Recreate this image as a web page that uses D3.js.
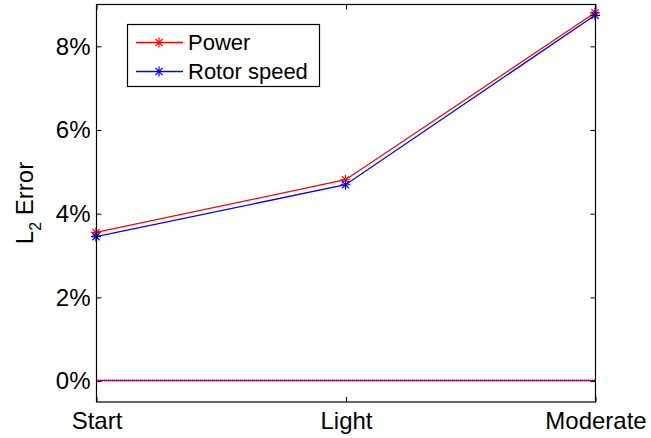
<!DOCTYPE html>
<html><head><meta charset="utf-8">
<script src="https://cdn.jsdelivr.net/npm/d3@7"></script>
<style>body{margin:0;background:#fff}svg{display:block}text{font-family:"Liberation Sans",Arial,sans-serif;fill:#000}</style>
</head><body><svg id="c" width="651" height="438"></svg>
<script>
const categories = ["Start", "Light", "Moderate"];
const powerError = [3.54, 4.80, 8.79];
const rotorError = [3.44, 4.68, 8.73];
const baseline = [0, 0, 0];
const yTicks = [0, 2, 4, 6, 8];
const seriesNames = ["Power", "Rotor speed"];

const svg = d3.select("#c");
const L = 96, R = 595, T = 4, B = 401.5;
const x = d3.scalePoint().domain(categories).range([L, R]).padding(0);
const y = d3.scaleLinear().domain([-0.5, 9]).range([B, T]);

const g = svg.append("g");
// zero baseline (red + blue overlapped)
const line = d3.line().x((d, i) => x(categories[i])).y(d => y(d));
g.append("path").datum(baseline).attr("d", line).attr("fill", "none").attr("stroke", "#ff0000").attr("stroke-width", 1.5);
g.append("path").datum(baseline).attr("d", line).attr("fill", "none").attr("stroke", "#1a00ff").attr("stroke-width", 1.5).attr("stroke-dasharray", "1,1").attr("opacity", 0.85);

// axes
const ax = svg.append("g").attr("transform", "translate(0.5,0.5)");
const yAxisL = d3.axisLeft(y).tickValues(yTicks).tickSize(-5).tickFormat(d => d + "%").tickPadding(6);
const gy = ax.append("g").attr("transform", `translate(${L},0)`).call(yAxisL);
gy.select(".domain").remove();
gy.selectAll("text").attr("font-size", 24).attr("font-family", "Liberation Sans, Arial, sans-serif").attr("fill", "#000").attr("x", -6);
gy.selectAll("line").attr("stroke", "#000");
const yAxisR = d3.axisRight(y).tickValues(yTicks).tickSize(-5).tickFormat("");
const gyr = ax.append("g").attr("transform", `translate(${R},0)`).call(yAxisR);
gyr.select(".domain").remove();
gyr.selectAll("line").attr("stroke", "#000");
const xAxisB = d3.axisBottom(x).tickSize(-5).tickPadding(10);
const gx = ax.append("g").attr("transform", `translate(0,${B})`).call(xAxisB);
gx.select(".domain").remove();
gx.selectAll("text").attr("font-size", 24).attr("font-family", "Liberation Sans, Arial, sans-serif").attr("fill", "#000");
gx.selectAll("line").attr("stroke", "#000");
const xAxisT = d3.axisTop(x).tickSize(-5).tickFormat("");
const gxt = ax.append("g").attr("transform", `translate(0,${T})`).call(xAxisT);
gxt.select(".domain").remove();
gxt.selectAll("line").attr("stroke", "#000");
ax.append("rect").attr("x", L).attr("y", T).attr("width", R - L).attr("height", B - T).attr("fill", "none").attr("stroke", "#000").attr("stroke-width", 1.2);

// series
function star(sel, cx, cy, color, s) {
  const p = `M${cx - s},${cy}H${cx + s}M${cx},${cy - s}V${cy + s}` +
    `M${cx - s * 0.72},${cy - s * 0.72}L${cx + s * 0.72},${cy + s * 0.72}M${cx - s * 0.72},${cy + s * 0.72}L${cx + s * 0.72},${cy - s * 0.72}`;
  sel.append("path").attr("d", p).attr("stroke", color).attr("stroke-width", 1.2).attr("fill", "none");
}
[[powerError, "#ff0000"], [rotorError, "#0000ff"]].forEach(([vals, c]) => {
  g.append("path").datum(vals).attr("d", line).attr("fill", "none").attr("stroke", c).attr("stroke-width", 1.3);
});
[[powerError, "#ff0000"], [rotorError, "#0000ff"]].forEach(([vals, c]) => {
  vals.forEach((v, i) => star(g, x(categories[i]), y(v), c, 5));
});

// legend
const lg = svg.append("g");
lg.append("rect").attr("x", 127.5).attr("y", 24.5).attr("width", 192).attr("height", 62).attr("fill", "#fff").attr("stroke", "#000").attr("stroke-width", 1.2);
const legColors = ["#ff0000", "#0000ff"];
seriesNames.forEach((n, i) => {
  const cy = 42.5 + i * 29;
  lg.append("line").attr("x1", 136).attr("x2", 183).attr("y1", cy).attr("y2", cy).attr("stroke", legColors[i]).attr("stroke-width", 1.3);
  star(lg, 159, cy, legColors[i], 5);
  lg.append("text").attr("x", 188).attr("y", cy).attr("dy", "0.36em").attr("font-size", 22).text(n);
});

// y label
const yl = svg.append("text").attr("transform", "translate(33,203) rotate(-90)").attr("text-anchor", "middle").attr("font-size", 24);
yl.append("tspan").text("L");
yl.append("tspan").attr("font-size", 16).attr("dy", 8).text("2");
yl.append("tspan").attr("dy", -8).text(" Error");
</script></body></html>
